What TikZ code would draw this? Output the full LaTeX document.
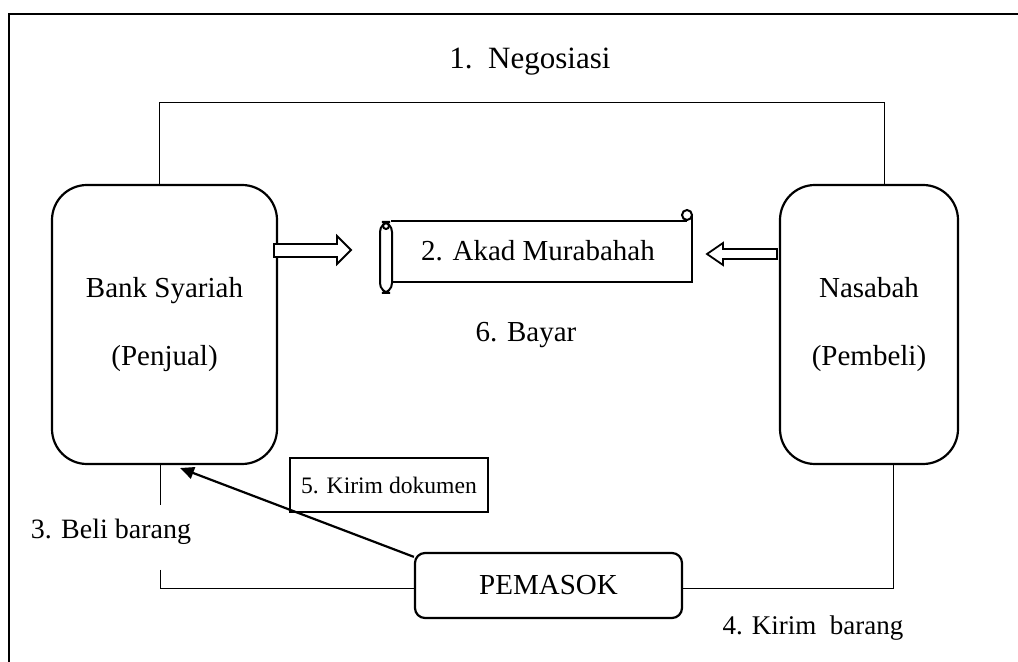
\documentclass[tikz,border=0pt]{standalone}
\usepackage{fontspec}
\setmainfont{Liberation Serif}
\usepackage{tikz}
\usetikzlibrary{arrows.meta}

\tikzset{
  partybox/.style={draw, line width=1.1pt, rounded corners=17.5pt, align=center,
    minimum width=#1, minimum height=139.5pt, inner sep=0pt, font=\fontsize{14.5}{18}\selectfont},
  plainbox/.style={draw, line width=0.9pt, minimum width=99pt, minimum height=27pt,
    inner sep=0pt, font=\fontsize{11.8}{15}\selectfont},
  supplierbox/.style={draw, line width=1.1pt, rounded corners=5pt, minimum width=133.5pt,
    minimum height=32.5pt, inner sep=0pt, font=\fontsize{14.5}{18}\selectfont},
  steplabel/.style={inner sep=0pt, font=\fontsize{#1}{18}\selectfont},
  link/.style={line width=0.5pt},
  blockarrow/.style={draw, line width=0.9pt, fill=white}
}

\begin{document}
\begin{tikzpicture}[x=0.5pt, y=-0.5pt]

        \useasboundingbox (0,0) rectangle (1018,662);
        %% frame (cut off at right and bottom)
        \draw[line width=1.3pt] (1018,14) -- (9,14) -- (9,662);

        %% boxes
        \node[partybox=112.5pt] (bank) at (164.5,324.5) {Bank Syariah\\[16pt](Penjual)};
        \node[partybox=89pt] (nasabah) at (869,324.5) {Nasabah\\[16pt](Pembeli)};
        \node[supplierbox] (pemasok) at (548.5,585.5) {PEMASOK};
        \node[plainbox] (kirimdok) at (389,485) {5. Kirim dokumen};

        %% scroll
        \begin{scope}[line width=1pt]
        \draw (391,221) -- (687,221); % top edge
        \draw (692,215) -- (692,282) -- (391,282); % right and bottom edge
        \draw (687,215) circle (5); % right curl
        \draw[rounded corners=5pt, fill=white] (380,222) rectangle (392,293); % left roll
        \draw (386,226) circle (3);
        \end{scope}
        \node[steplabel=14.5] (akad) at (538,251) {2. Akad Murabahah};

        %% block arrows
        \draw[blockarrow] (274,244) -- (337,244) -- (337,236) -- (351,250) -- (337,264) -- (337,257) -- (274,257) -- cycle;
        \draw[blockarrow] (777,249) -- (723,249) -- (723,243) -- (707,254) -- (723,265) -- (723,259) -- (777,259) -- cycle;

        %% connectors
        \coordinate (negL) at (159,103);
        \coordinate (negR) at (884,103);
        \draw[link] (negL |- bank.north) -- (negL) -- (negR) -- (negR |- nasabah.north); % negosiasi
        \coordinate (beliTop) at (160,505);
        \coordinate (beliBot) at (160,570);
        \coordinate (kirimR) at (893,589);
        \draw[link] (beliTop |- bank.south) -- (beliTop);
        \draw[link] (beliBot) -- (160,589) -- (pemasok.west |- kirimR);
        \draw[link] (pemasok.east |- kirimR) -- (kirimR) -- (kirimR |- nasabah.south);
        \coordinate (docTip) at (180,468);
        \draw[line width=1.1pt, -{Triangle[length=7pt, width=6pt]}] (pemasok.168) -- (docTip);

        %% labels
        \node[steplabel=15.5] (neg) at (530,62) {1.\ \ Negosiasi};
        \node[steplabel=14.5] (bayar) at (526,335) {6. Bayar};
        \node[steplabel=14] (beli) at (111,532) {3. Beli barang};
        \node[steplabel=13.5] (kirim) at (813,628) {4. Kirim\ \ barang};
    \end{tikzpicture}
\end{document}
